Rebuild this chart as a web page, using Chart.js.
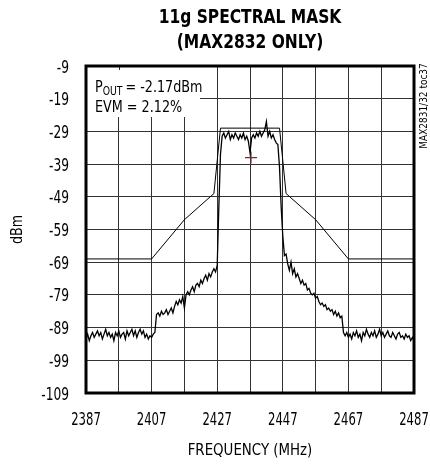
<!DOCTYPE html>
<html><head><meta charset="utf-8">
<script src="https://cdn.jsdelivr.net/npm/chart.js@4"></script>
<style>html,body{margin:0;padding:0;background:#fff}canvas{display:block}</style>
</head><body>
<canvas id="c" width="430" height="464"></canvas>
<script>
const FONT = "'DejaVu Sans Condensed','DejaVu Sans',sans-serif";
const titleLines = ['11g SPECTRAL MASK', '(MAX2832 ONLY)'];
const xAxisTitle = 'FREQUENCY (MHz)';
const yAxisTitle = 'dBm';
const sideNote = 'MAX2831/32 toc37';
const noteLines = ['= -2.17dBm', 'EVM = 2.12%'];
const xGridLines = [2387, 2397, 2407, 2417, 2427, 2437, 2447, 2457, 2467, 2477, 2487];
const xTickLabels = [2387, 2407, 2427, 2447, 2467, 2487];
const yTickLabels = [-9, -19, -29, -39, -49, -59, -69, -79, -89, -99, -109];

// spectrum analyser sweep: 2387 MHz start, 0.5 MHz per sample
const sweepStart = 2387, sweepStep = 0.5;
const traceDbm = [
  -92.5,-91.0,-93.0,-91.5,-90.5,-92.0,-91.0,-90.0,-91.5,-90.5,
  -92.5,-91.0,-89.5,-91.5,-90.5,-92.0,-91.0,-93.0,-90.5,-91.5,
  -90.0,-92.0,-91.0,-90.5,-92.5,-90.0,-91.5,-90.5,-89.5,-91.5,
  -90.0,-92.0,-90.5,-89.5,-91.0,-90.0,-92.0,-91.0,-92.5,-91.5,
  -92.0,-91.0,-90.5,-85.0,-84.5,-85.5,-84.0,-85.0,-84.5,-83.5,
  -85.0,-84.0,-83.0,-84.5,-82.5,-81.0,-82.0,-80.5,-81.5,-79.5,
  -83.0,-79.0,-78.0,-79.0,-77.5,-76.5,-78.0,-76.0,-75.5,-76.5,
  -74.5,-75.5,-74.0,-73.0,-74.5,-72.5,-73.5,-72.0,-71.0,-72.0,
  -70.0,-52.0,-36.0,-30.5,-29.5,-31.0,-30.0,-29.0,-31.5,-30.0,
  -31.0,-29.5,-30.5,-31.5,-30.0,-31.0,-29.5,-31.5,-30.5,-32.0,
  -35.5,-31.0,-30.0,-31.0,-29.5,-30.5,-29.0,-30.5,-29.5,-28.5,
  -26.0,-30.5,-29.0,-31.0,-30.0,-31.5,-32.5,-33.0,-40.0,-52.0,
  -61.0,-67.0,-66.5,-69.5,-71.5,-69.0,-72.5,-71.0,-73.5,-72.5,
  -74.0,-75.5,-74.5,-76.0,-75.5,-77.5,-77.0,-78.5,-79.0,-78.5,
  -80.0,-79.5,-81.0,-82.0,-81.5,-82.5,-82.0,-83.5,-83.0,-84.0,
  -83.5,-85.0,-84.0,-85.5,-84.5,-86.0,-85.5,-90.5,-91.5,-90.5,
  -92.0,-91.0,-92.5,-90.5,-91.5,-90.0,-92.0,-91.0,-93.0,-90.5,
  -91.5,-89.5,-91.0,-92.0,-90.5,-91.5,-90.0,-92.0,-91.0,-89.5,
  -91.5,-90.5,-92.0,-91.0,-90.0,-91.5,-92.0,-90.5,-91.5,-92.5,
  -91.0,-90.5,-92.0,-91.5,-92.5,-91.0,-92.0,-91.5,-93.0,-92.0,
  -93.0
];
const maskFreq = [2387, 2407, 2417, 2426, 2428, 2446, 2448, 2457, 2467, 2487];
const maskDbm  = [-68,  -68,  -56,  -48,  -28,  -28,  -48,  -56,  -68,  -68];
const markerFreq = [2437.3];
const markerDbm = [-37];

const traceData = traceDbm.map((v, i) => ({ x: sweepStart + i * sweepStep, y: v }));
const maskData = maskFreq.map((f, i) => ({ x: f, y: maskDbm[i] }));
const markerData = markerFreq.map((f, i) => ({ x: f, y: markerDbm[i] }));

// draws text squeezed horizontally (narrow face look); returns drawn width
function txt(ctx, s, x, y, font, sx, align) {
  ctx.save();
  ctx.font = font;
  ctx.textBaseline = 'alphabetic';
  const w = ctx.measureText(s).width * sx;
  let x0 = x;
  if (align === 'center') x0 = x - w / 2;
  else if (align === 'right') x0 = x - w;
  ctx.translate(x0, y);
  ctx.scale(sx, 1);
  ctx.textAlign = 'left';
  ctx.fillText(s, 0, 0);
  ctx.restore();
  return w;
}

const decor = {
  id: 'decor',
  beforeDatasetsDraw(chart) {
    const { ctx, chartArea: a, scales } = chart;
    ctx.save();
    ctx.fillStyle = '#fff';
    ctx.fillRect(a.left, a.top, 200 - a.left, 117 - a.top);
    const tx = Math.round(scales.x.getPixelForValue(2397)) + 0.5;
    ctx.strokeStyle = '#333'; ctx.lineWidth = 1;
    ctx.beginPath(); ctx.moveTo(tx, a.top); ctx.lineTo(tx, a.top + 4); ctx.stroke();
    ctx.restore();
  },
  afterDatasetsDraw(chart) {
    const { ctx, chartArea: a } = chart;
    ctx.save();
    ctx.strokeStyle = '#000'; ctx.lineWidth = 3;
    ctx.strokeRect(a.left, a.top, a.right - a.left, a.bottom - a.top);
    ctx.restore();
  },
  afterDraw(chart) {
    const { ctx, chartArea: a, scales } = chart;
    const cx = (a.left + a.right) / 2;
    ctx.save();
    ctx.fillStyle = '#000';
    const tf = "bold 20px " + FONT;
    txt(ctx, titleLines[0], cx, 23, tf, 0.86, 'center');
    txt(ctx, titleLines[1], cx, 48, tf, 0.86, 'center');
    // tick labels, placed by the library's scales
    const lf = "17px " + FONT;
    xTickLabels.forEach(v => txt(ctx, String(v), scales.x.getPixelForValue(v), 425, lf, 0.76, 'center'));
    yTickLabels.forEach(v => txt(ctx, String(v), 69, scales.y.getPixelForValue(v) + 6.5, lf, 0.8, 'right'));
    txt(ctx, xAxisTitle, cx, 455, "16.5px " + FONT, 0.9, 'center');
    ctx.save();
    ctx.translate(22, (a.top + a.bottom) / 2);
    ctx.rotate(-Math.PI / 2);
    txt(ctx, yAxisTitle, 0, 0, "16px " + FONT, 0.88, 'center');
    ctx.restore();
    ctx.save();
    ctx.translate(427, 106);
    ctx.rotate(-Math.PI / 2);
    txt(ctx, sideNote, 0, 0, "10.5px " + FONT, 0.95, 'center');
    ctx.restore();
    // in-plot note
    const nf = "16.5px " + FONT;
    let x = 95;
    x += txt(ctx, 'P', x, 92, nf, 0.86, 'left');
    x += txt(ctx, 'OUT', x, 95, "12px " + FONT, 0.86, 'left') + 3;
    txt(ctx, noteLines[0], x, 92, nf, 0.86, 'left');
    txt(ctx, noteLines[1], 95, 112, nf, 0.86, 'left');
    ctx.restore();
  }
};

const zeroPad = s => { s.paddingLeft = 0; s.paddingRight = 0; s.paddingTop = 0; s.paddingBottom = 0; };

new Chart(document.getElementById('c'), {
  type: 'line',
  data: {
    datasets: [
      { data: traceData, borderColor: '#000', borderWidth: 1.3, pointRadius: 0, tension: 0 },
      { data: maskData, borderColor: '#000', borderWidth: 1, pointRadius: 0, tension: 0 },
      { data: markerData, showLine: false, pointStyle: 'cross', pointRadius: 6,
        borderColor: '#7a2a2a', borderWidth: 1.2 }
    ]
  },
  options: {
    responsive: false, animation: false,
    layout: { padding: { top: 66, right: 16, left: 0, bottom: 0 } },
    plugins: { legend: { display: false }, tooltip: { enabled: false }, title: { display: false } },
    scales: {
      x: {
        type: 'linear', min: 2387, max: 2487,
        afterBuildTicks: s => { s.ticks = xGridLines.map(v => ({ value: v })); },
        afterFit: s => { s.height = 71; zeroPad(s); },
        ticks: { display: false },
        grid: { color: '#333', lineWidth: 1, drawTicks: false },
        border: { display: false }
      },
      y: {
        type: 'linear', min: -109, max: -9,
        afterBuildTicks: s => { s.ticks = yTickLabels.map(v => ({ value: v })); },
        afterFit: s => { s.width = 86; zeroPad(s); },
        ticks: { display: false },
        grid: { color: '#333', lineWidth: 1, drawTicks: false },
        border: { display: false }
      }
    }
  },
  plugins: [decor]
});
</script>
</body></html>
